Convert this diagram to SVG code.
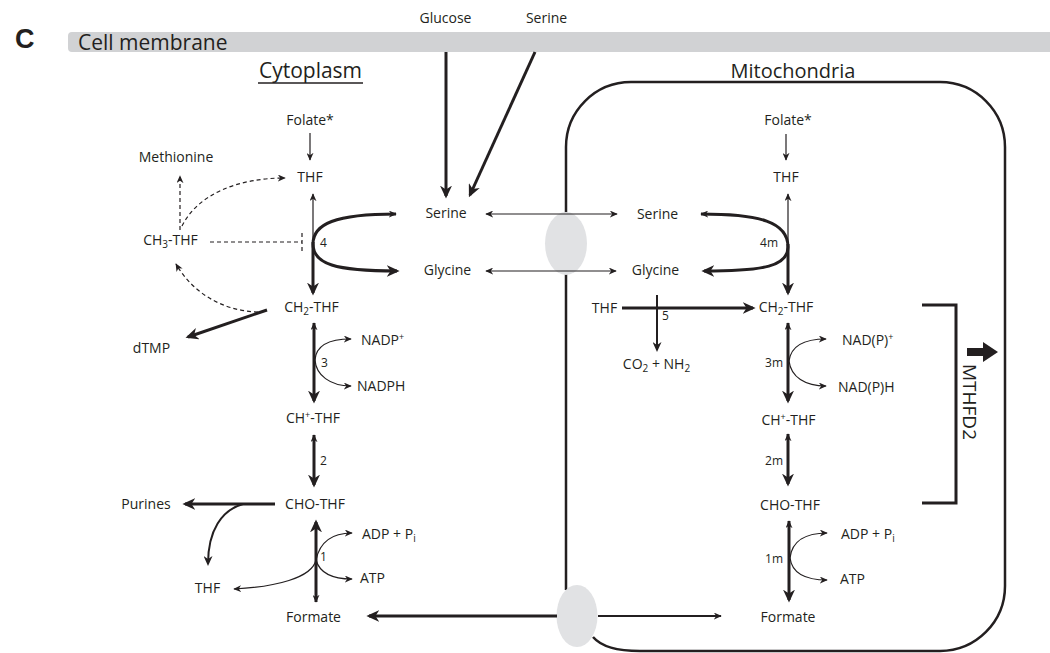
<svg xmlns="http://www.w3.org/2000/svg" width="1050" height="653" viewBox="0 0 1050 653">
<defs>
<style>
text{font-family:"Open Sans","Liberation Sans",sans-serif;font-size:14px;fill:#231f20}
.n{font-size:12px}
.t{stroke:#231f20;stroke-width:1.2;fill:none}
.m{stroke:#231f20;stroke-width:2;fill:none}
.k{stroke:#231f20;stroke-width:3;fill:none}
.d{stroke:#231f20;stroke-width:1.2;fill:none;stroke-dasharray:4 3}
.sm{marker-end:url(#sm)}
.lg{marker-end:url(#lg)}
.md{marker-end:url(#md)}
.ss{marker-start:url(#sm)}
</style>
<marker id="sm" viewBox="0 0 10 10" refX="9" refY="5" markerWidth="8" markerHeight="7" preserveAspectRatio="none" markerUnits="userSpaceOnUse" orient="auto-start-reverse"><path d="M0,0 L10,5 L0,10 L3,5 z" fill="#231f20"/></marker>
<marker id="md" viewBox="0 0 10 10" refX="8" refY="5" markerWidth="10" markerHeight="9" preserveAspectRatio="none" markerUnits="userSpaceOnUse" orient="auto-start-reverse"><path d="M0,0 L10,5 L0,10 L3,5 z" fill="#231f20"/></marker>
<marker id="lg" viewBox="0 0 10 10" refX="8" refY="5" markerWidth="13" markerHeight="12" preserveAspectRatio="none" markerUnits="userSpaceOnUse" orient="auto-start-reverse"><path d="M0,0 L10,5 L0,10 L3,5 z" fill="#231f20"/></marker>
</defs>
<rect width="1050" height="653" fill="#ffffff"/>

<g id="header">
<text x="15" y="48" style="font-family:'Liberation Sans',Arial,sans-serif;font-weight:bold;font-size:27px">C</text>
<rect x="68" y="32" width="990" height="20" rx="4" fill="#d1d2d4"/>
<text x="78" y="50" style="font-size:21px">Cell membrane</text>
<text x="445.5" y="23" text-anchor="middle">Glucose</text>
<text x="546.5" y="23" text-anchor="middle">Serine</text>
<text x="310.5" y="78" text-anchor="middle" style="font-size:21px">Cytoplasm</text>
<line x1="258" y1="83" x2="363" y2="83" stroke="#231f20" stroke-width="1.5"/>
<text x="793" y="78" text-anchor="middle" style="font-size:20px">Mitochondria</text>
</g>

<g id="mitochondrion">
<path d="M593,637 Q605,651 640,651 H940 A65,65 0 0 0 1005,586 V147 A65,65 0 0 0 940,82 H631 A65,65 0 0 0 566,147 V590" fill="none" stroke="#231f20" stroke-width="2.5"/>
<ellipse cx="566" cy="243.5" rx="21" ry="31.5" fill="#e1e2e4"/>
<ellipse cx="577" cy="616" rx="20.5" ry="31" fill="#e1e2e4"/>
</g>

<g id="connectors">
<path class="k lg" d="M446,52 V196"/>
<path class="k lg" d="M535,52 L470,195"/>
<path class="t sm" d="M310,133 V160"/>
<path class="t sm" d="M786,134 V160"/>
<!-- reaction 4 -->
<path class="t sm" d="M313,244 V194"/>
<path class="k lg" d="M313,242 V293"/>
<path class="k sm" d="M313,244 C313,224 335,214 396,214"/>
<path class="k lg" d="M313,244 C313,264 335,271 397,271"/>
<!-- dashed -->
<path class="d sm" d="M180,230 V176"/>
<path class="d sm" d="M182,226 C198,194 238,178 285,178"/>
<path class="d" d="M210,242 H302 M302,233 V251"/>
<path class="d sm" d="M258,312 C222,311 192,292 176,264"/>
<path class="k lg" d="M267,310 L188,337"/>
<!-- reaction 3 -->
<path class="k ss lg" d="M314,323 V401"/>
<path class="t sm" d="M315,360 C316,345 330,339 351,339"/>
<path class="t sm" d="M315,360 C316,375 330,386 351,386"/>
<!-- reaction 2 -->
<path class="k ss lg" d="M314,435 V485"/>
<!-- purines -->
<path class="k lg" d="M275,504 H185"/>
<path class="m md" d="M243,504 C222,510 208,530 208,564"/>
<!-- reaction 1 -->
<path class="k ss lg" d="M316,602 V522"/>
<path class="t ss sm" d="M234,589 C275,587 312,578 316,560 C320,541 333,533 352,533"/>
<path class="t sm" d="M316,560 C320,574 333,579 352,579"/>
<!-- transport -->
<path class="t ss sm" d="M486,214 H617"/>
<path class="t ss sm" d="M486,271 H616"/>
<path class="k lg" d="M557,616 H369"/>
<path class="m sm" d="M598,616 H721"/>
<!-- reaction 4m -->
<path class="t sm" d="M788,246 V194"/>
<path class="k lg" d="M788,244 V293"/>
<path class="k sm" d="M788,247 C788,222 760,214 701,214"/>
<path class="k lg" d="M788,247 C788,266 765,271 704,271"/>
<!-- reaction 5 -->
<path class="k lg" d="M622,308 H753"/>
<path class="m md" d="M657,295 V350"/>
<!-- reaction 3m -->
<path class="k ss lg" d="M788,323 V401"/>
<path class="t sm" d="M789,361 C791,346 805,339 826,339"/>
<path class="t sm" d="M789,361 C791,377 805,386 826,386"/>
<!-- reaction 2m -->
<path class="k ss lg" d="M788,434 V484"/>
<!-- reaction 1m -->
<path class="k ss lg" d="M789,521 V600"/>
<path class="t sm" d="M790,558 C792,541 806,533 827,533"/>
<path class="t sm" d="M790,558 C792,573 806,580 827,580"/>
<!-- MTHFD2 bracket -->
<path d="M922,305 H956 V503 H922" fill="none" stroke="#231f20" stroke-width="3"/>
</g>

<g id="cytoplasm-nodes">
<text x="310" y="125" text-anchor="middle">Folate*</text>
<text x="310" y="182" text-anchor="middle">THF</text>
<text x="176" y="162" text-anchor="middle">Methionine</text>
<text x="170.5" y="245" text-anchor="middle">CH<tspan font-size="10" dy="3">3</tspan><tspan dy="-3">-THF</tspan></text>
<text x="446" y="218" text-anchor="middle">Serine</text>
<text x="447.5" y="275" text-anchor="middle">Glycine</text>
<text x="311.5" y="312" text-anchor="middle">CH<tspan font-size="10" dy="3">2</tspan><tspan dy="-3">-THF</tspan></text>
<text x="151.5" y="353" text-anchor="middle">dTMP</text>
<text x="361" y="345">NADP<tspan font-size="9" dy="-5">+</tspan></text>
<text x="357" y="391">NADPH</text>
<text x="313" y="423" text-anchor="middle">CH<tspan font-size="9" dy="-5">+</tspan><tspan dy="5">-THF</tspan></text>
<text x="315" y="509" text-anchor="middle">CHO-THF</text>
<text x="146" y="509" text-anchor="middle">Purines</text>
<text x="362" y="539">ADP + P<tspan font-size="10" dy="3">i</tspan></text>
<text x="360" y="583">ATP</text>
<text x="207.5" y="593" text-anchor="middle">THF</text>
<text x="313.5" y="622" text-anchor="middle">Formate</text>
<text class="n" x="320" y="247">4</text>
<text class="n" x="321" y="367">3</text>
<text class="n" x="320" y="465">2</text>
<text class="n" x="320" y="561">1</text>
</g>

<g id="mito-nodes">
<text x="788" y="125" text-anchor="middle">Folate*</text>
<text x="786" y="182" text-anchor="middle">THF</text>
<text x="657.5" y="219" text-anchor="middle">Serine</text>
<text x="655.5" y="275" text-anchor="middle">Glycine</text>
<text x="604.5" y="313" text-anchor="middle">THF</text>
<text x="786" y="312" text-anchor="middle">CH<tspan font-size="10" dy="3">2</tspan><tspan dy="-3">-THF</tspan></text>
<text x="656.5" y="369" text-anchor="middle">CO<tspan font-size="10" dy="3">2</tspan><tspan dy="-3"> + NH</tspan><tspan font-size="10" dy="3">2</tspan></text>
<text x="842" y="345">NAD(P)<tspan font-size="9" dy="-5">+</tspan></text>
<text x="838" y="392">NAD(P)H</text>
<text x="788.5" y="425" text-anchor="middle">CH<tspan font-size="9" dy="-5">+</tspan><tspan dy="5">-THF</tspan></text>
<text x="790" y="510" text-anchor="middle">CHO-THF</text>
<text x="841" y="539">ADP + P<tspan font-size="10" dy="3">i</tspan></text>
<text x="840" y="584">ATP</text>
<text x="788" y="622" text-anchor="middle">Formate</text>
<text class="n" x="778" y="247" text-anchor="end">4m</text>
<text class="n" x="662" y="320">5</text>
<text class="n" x="783" y="367" text-anchor="end">3m</text>
<text class="n" x="783" y="465" text-anchor="end">2m</text>
<text class="n" x="783" y="563" text-anchor="end">1m</text>
</g>

<g id="mthfd2">
<polygon points="967,348 983,348 983,342 998,352 983,362 983,356 967,356" fill="#231f20"/>
<text transform="translate(963,364) rotate(90)" style="font-size:19px">MTHFD2</text>
</g>
</svg>
